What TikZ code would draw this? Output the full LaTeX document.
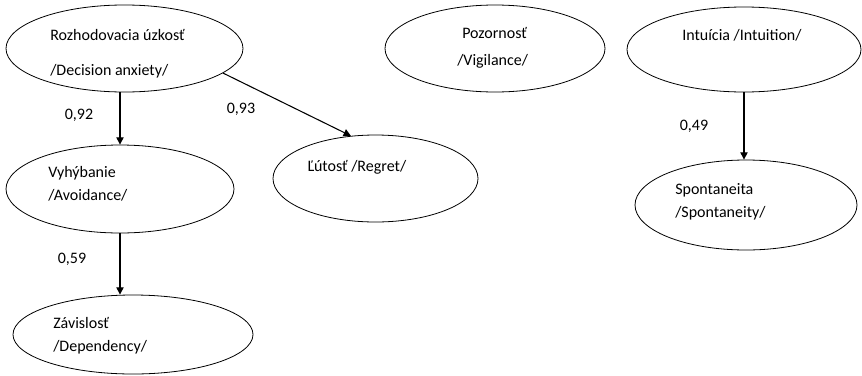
\documentclass[tikz,border=0pt]{standalone}
\usepackage{fontspec}
\setmainfont{Carlito}
\usetikzlibrary{shapes.geometric,arrows.meta}

\begin{document}
\begin{tikzpicture}[
    x=0.75pt,y=-0.75pt,
    every node/.style={font=\fontsize{12}{14}\selectfont},
    oval/.style={draw,ellipse,line width=0.6pt,inner sep=0pt},
    txt/.style={anchor=base west,inner sep=0pt},
    coef/.style={inner sep=0pt},
    arrow/.style={-{Triangle[length=5.5pt,width=5.5pt]},line width=0.8pt}
  ]
    \useasboundingbox (0,0) rectangle (862,375);
    \node[oval,minimum width=177.75pt,minimum height=65.25pt] (anxiety) at (124.5,48.5) {};
    \node[oval,minimum width=165pt,minimum height=65.25pt] (vigil) at (495,48.5) {};
    \node[oval,minimum width=175.5pt,minimum height=63.75pt] (intuit) at (744,49.5) {};
    \node[oval,minimum width=171pt,minimum height=66pt] (avoid) at (120,189) {};
    \node[oval,minimum width=153.75pt,minimum height=65.25pt] (regret) at (375.5,178.5) {};
    \node[oval,minimum width=180pt,minimum height=59.25pt] (depend) at (133,334.5) {};
    \node[oval,minimum width=166.5pt,minimum height=67.5pt] (spont) at (746,205) {};
    \node[txt] (anxietyA) at (50,40) {Rozhodovacia úzkosť};
    \node[txt] (anxietyB) at (50,75) {/Decision anxiety/};
    \node[txt] (vigilA) at (462,38) {Pozornosť};
    \node[txt] (vigilB) at (457,65) {/Vigilance/};
    \node[txt] (intuitA) at (682,40) {Intuícia /Intuition/};
    \node[txt] (avoidA) at (48,177) {Vyhýbanie};
    \node[txt] (avoidB) at (48,200) {/Avoidance/};
    \node[txt] (regretA) at (307,171) {Ľútosť /Regret/};
    \node[txt] (dependA) at (53,328) {Závislosť};
    \node[txt] (dependB) at (53,351) {/Dependency/};
    \node[txt] (spontA) at (675,194) {Spontaneita};
    \node[txt] (spontB) at (675,217) {/Spontaneity/};
    \node[coef] (c92) at (79,115) {0,92};
    \node[coef] (c93) at (241,109) {0,93};
    \node[coef] (c59) at (72,259) {0,59};
    \node[coef] (c49) at (694,126) {0,49};
    \draw[arrow] (avoid.north |- anxiety.south) -- (avoid.north);
    \draw[arrow] (anxiety.-14) -- (regret.120.8);
    \draw[arrow] (avoid.south) -- (avoid.south |- depend.north);
    \draw[arrow] (intuit.south) -- (intuit.south |- spont.north);
  \end{tikzpicture}
\end{document}
